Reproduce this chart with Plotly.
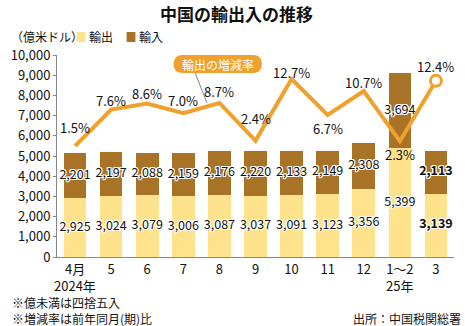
import plotly.graph_objects as go

categories = ["4月", "5", "6", "7", "8", "9", "10", "11", "12", "1～2", "3"]
year_labels = ["2024年", "", "", "", "", "", "", "", "", "25年", ""]
exports = [2925, 3024, 3079, 3006, 3087, 3037, 3091, 3123, 3356, 5399, 3139]
imports = [2201, 2197, 2088, 2159, 2176, 2220, 2133, 2149, 2308, 3694, 2113]
growth = [1.5, 7.6, 8.6, 7.0, 8.7, 2.4, 12.7, 6.7, 10.7, 2.3, 12.4]
growth_shift = [19, 9, 10, 13, 11, 22, 7, -14, 9, -13, 14]

W, H = 465, 326
L, R, T, B = 49, 11, 55, 69
PW, PH = W - L - R, H - T - B

def px(x):
    return (x - L) / PW

def py(y):
    return (H - B - y) / PH

FONT = "Noto Sans CJK JP, Noto Sans, sans-serif"
C_EXP = "#FFE38C"
C_IMP = "#A87227"
C_LINE = "#F0A02C"
HALO = "-1px -1px 0 #fff, 1px -1px 0 #fff, -1px 1px 0 #fff, 1px 1px 0 #fff, 0 1px 0 #fff, 0 -1px 0 #fff, 1px 0 0 #fff, -1px 0 0 #fff"

x = list(range(len(categories)))
fig = go.Figure()
fig.add_trace(go.Bar(x=x, y=exports, marker=dict(color=C_EXP, line=dict(width=0)), name="輸出",
                     showlegend=False, hoverinfo="skip"))
fig.add_trace(go.Bar(x=x, y=imports, base=exports, marker=dict(color=C_IMP, line=dict(width=0)), name="輸入",
                     showlegend=False, hoverinfo="skip"))

bold_last = [False] * (len(x) - 1) + [True]
exp_txt = [f"<b>{v:,}</b>" if b else f"{v:,}" for v, b in zip(exports, bold_last)]
imp_txt = [f"<b>{v:,}</b>" if b else f"{v:,}" for v, b in zip(imports, bold_last)]
exp_mid = [e / 2 for e in exports]
imp_mid = [e + i / 2 for e, i in zip(exports, imports)]

fig.add_trace(go.Scatter(x=x, y=exp_mid, mode="text", text=exp_txt, textposition="middle center",
                         textfont=dict(family=FONT, size=12.5, color="#111", shadow=HALO),
                         showlegend=False, hoverinfo="skip", cliponaxis=False))
fig.add_trace(go.Scatter(x=x, y=imp_mid, mode="text", text=imp_txt, textposition="middle center",
                         textfont=dict(family=FONT, size=12.5, color="#111", shadow=HALO),
                         showlegend=False, hoverinfo="skip", cliponaxis=False))

fig.add_trace(go.Scatter(x=x, y=growth, yaxis="y2", mode="lines",
                         line=dict(color=C_LINE, width=4), showlegend=False, hoverinfo="skip",
                         cliponaxis=False))
fig.add_trace(go.Scatter(x=[x[-1]], y=[growth[-1]], yaxis="y2", mode="markers",
                         marker=dict(size=11, color="white", line=dict(color=C_LINE, width=3)),
                         showlegend=False, hoverinfo="skip", cliponaxis=False))

annotations = []
for xi, g, s in zip(x, growth, growth_shift):
    annotations.append(dict(x=xi, y=g, xref="x", yref="y2", text=f"{g:.1f}%", showarrow=False,
                            yshift=s, yanchor="middle",
                            font=dict(family=FONT, size=13, color="#111")))

for xi, yl in zip(x, year_labels):
    if yl:
        annotations.append(dict(x=xi, y=py(285), xref="x", yref="paper", text=yl, showarrow=False,
                                yanchor="middle", font=dict(family=FONT, size=13, color="#111")))

def ann(text, xp, yp, size=12, anchor="left", color="#111", bold=False):
    if bold:
        text = f"<b>{text}</b>"
    annotations.append(dict(x=px(xp), y=py(yp), xref="paper", yref="paper", text=text,
                            showarrow=False, xanchor=anchor, yanchor="middle",
                            font=dict(family=FONT, size=size, color=color)))

ann("中国の輸出入の推移", 232, 13, size=17, anchor="center", bold=True)
ann("（億米ドル）", 0, 37, size=12)
ann("輸出", 80, 37, size=12)
ann("輸入", 131, 37, size=12)
ann("輸出の増減率", 213, 64, size=12, anchor="center", color="white")
ann("※億未満は四捨五入", 1, 302, size=12)
ann("※増減率は前年同月(期)比", 1, 318, size=12)
ann("出所：中国税関総署", 463, 318, size=12, anchor="right")

def rounded(x0, y0, x1, y1, r):
    X0, X1 = px(x0), px(x1)
    Y0, Y1 = py(y0), py(y1)
    rx, ry = r / PW, r / PH
    return (f"M{X0+rx},{Y0} L{X1-rx},{Y0} Q{X1},{Y0} {X1},{Y0-ry} L{X1},{Y1+ry} Q{X1},{Y1} {X1-rx},{Y1} "
            f"L{X0+rx},{Y1} Q{X0},{Y1} {X0},{Y1+ry} L{X0},{Y0-ry} Q{X0},{Y0} {X0+rx},{Y0} Z")

shapes = [
    dict(type="rect", xref="paper", yref="paper", x0=px(69), x1=px(78), y0=py(42), y1=py(32),
         fillcolor=C_EXP, line=dict(width=0)),
    dict(type="rect", xref="paper", yref="paper", x0=px(120), x1=px(129), y0=py(42), y1=py(32),
         fillcolor=C_IMP, line=dict(width=0)),
    dict(type="line", xref="paper", yref="paper", x0=px(190), y0=py(73), x1=px(202), y1=py(103),
         line=dict(color="#666", width=0.8)),
    dict(type="path", xref="paper", yref="paper", path=rounded(168, 55, 258, 73, 9),
         fillcolor=C_LINE, line=dict(width=0)),
]

fig.update_layout(
    width=W, height=H,
    margin=dict(l=L, r=R, t=T, b=B, pad=0),
    paper_bgcolor="white", plot_bgcolor="white",
    barmode="stack", bargap=0.375,
    showlegend=False,
    font=dict(family=FONT, size=13, color="#111"),
    xaxis=dict(range=[-0.5, 10.5], tickmode="array", tickvals=x, ticktext=categories,
               showgrid=False, zeroline=False, showline=True, linecolor="#888", linewidth=1,
               ticks="", tickfont=dict(size=13, family=FONT)),
    yaxis=dict(range=[0, 10000], tickvals=list(range(0, 10001, 1000)), tickformat=",d",
               showgrid=False, zeroline=False, showline=True, linecolor="#888", linewidth=1,
               ticks="outside", ticklen=3, tickcolor="#888", tickfont=dict(size=13, family=FONT)),
    yaxis2=dict(range=[-17.06, 16.72], overlaying="y", visible=False, showgrid=False, zeroline=False),
    annotations=annotations,
    shapes=shapes,
)

fig.write_html("out.html")
